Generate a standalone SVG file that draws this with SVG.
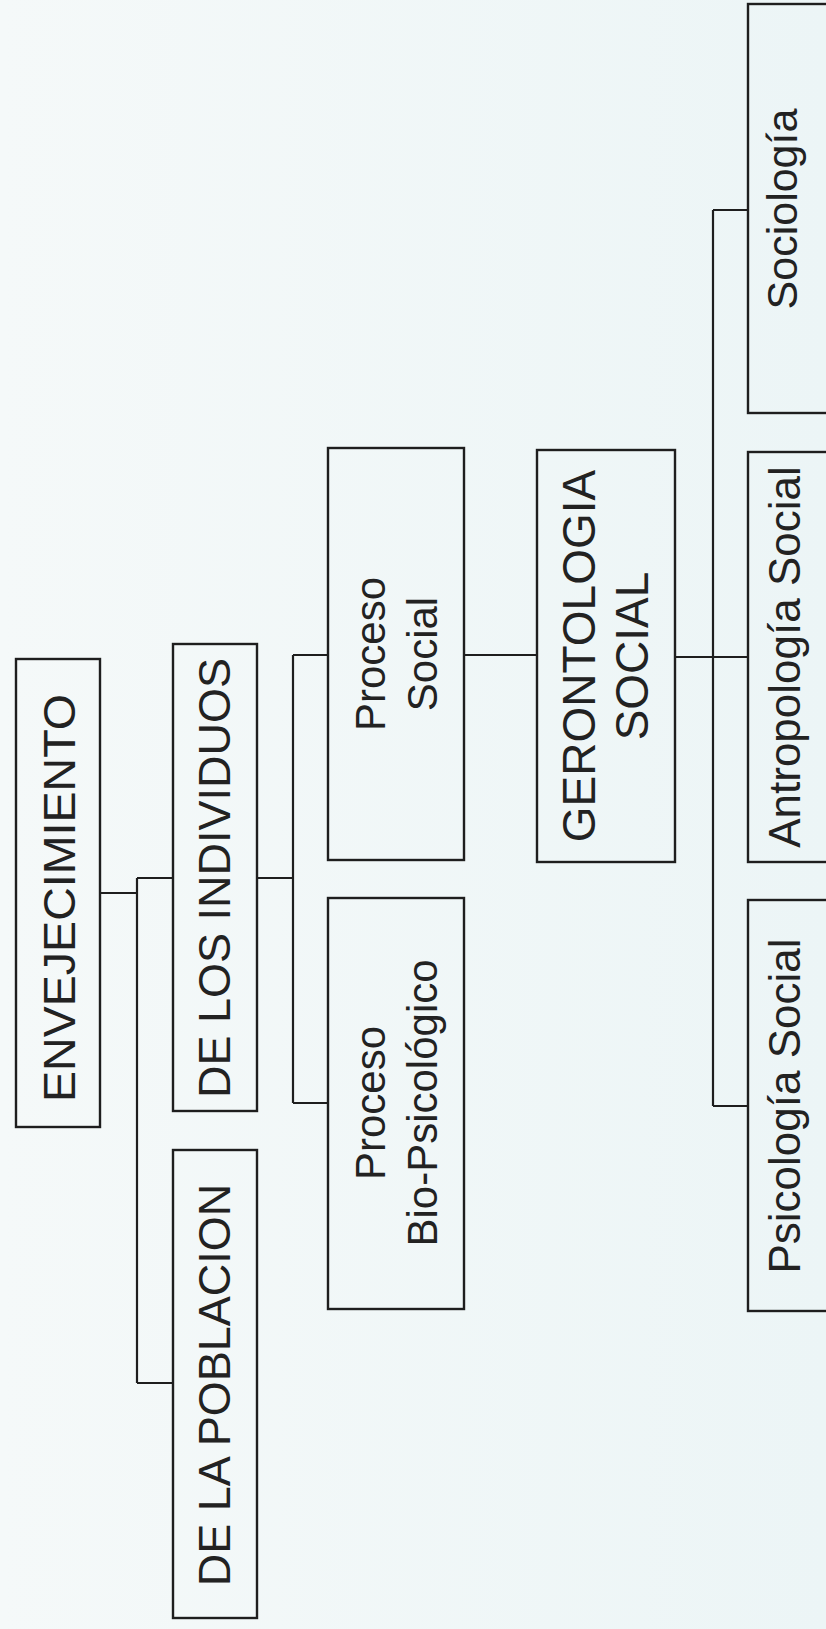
<svg xmlns="http://www.w3.org/2000/svg" width="826" height="1629" viewBox="0 0 826 1629">
<defs>
<linearGradient id="bg" x1="0" y1="0" x2="1" y2="0">
<stop offset="0" stop-color="#f5f9f9"/>
<stop offset="1" stop-color="#ecf5f6"/>
</linearGradient>
</defs>
<style>
.box{fill:none;stroke:#1e1e1e;stroke-width:2.4}
.con{fill:none;stroke:#1e1e1e;stroke-width:2.2}
.t{font-family:"Liberation Sans",Arial,sans-serif;fill:#222;text-anchor:middle}
.big{font-size:45px}
.mid{font-size:42px}
.sm{font-size:44px}
</style>
<rect x="0" y="0" width="826" height="1629" fill="url(#bg)"/>
<g id="connectors">
<path class="con" d="M100,893 H137 M137,878 V1383 M137,878 H173 M137,1383 H173"/>
<path class="con" d="M257,878 H293 M293,655 V1103 M293,655 H328 M293,1103 H328"/>
<path class="con" d="M464,655 H537"/>
<path class="con" d="M675,657 H748 M713,210 V1106 M713,210 H748 M713,1106 H748"/>
</g>
<g id="envejecimiento">
<rect class="box" x="16" y="659" width="84" height="468"/>
<text class="t big" transform="translate(75,898) rotate(-90)" textLength="408" lengthAdjust="spacingAndGlyphs">ENVEJECIMIENTO</text>
</g>
<g id="poblacion">
<rect class="box" x="173" y="1150" width="84" height="468"/>
<text class="t big" transform="translate(230,1385) rotate(-90)">DE LA POBLACION</text>
</g>
<g id="individuos">
<rect class="box" x="173" y="644" width="84" height="467"/>
<text class="t big" transform="translate(230,878) rotate(-90)">DE LOS INDIVIDUOS</text>
</g>
<g id="proceso-social">
<rect class="box" x="328" y="448" width="136" height="412"/>
<text class="t mid" transform="translate(385,654) rotate(-90)">Proceso</text>
<text class="t mid" transform="translate(437,654) rotate(-90)">Social</text>
</g>
<g id="proceso-bio">
<rect class="box" x="328" y="898" width="136" height="411"/>
<text class="t mid" transform="translate(385,1103) rotate(-90)">Proceso</text>
<text class="t mid" transform="translate(437,1103) rotate(-90)">Bio-Psicológico</text>
</g>
<g id="gerontologia">
<rect class="box" x="537" y="450" width="138" height="412"/>
<text class="t" style="font-size:46px" transform="translate(595,656) rotate(-90)">GERONTOLOGIA</text>
<text class="t" style="font-size:46px" transform="translate(648,656) rotate(-90)">SOCIAL</text>
</g>
<g id="sociologia">
<rect class="box" x="748" y="4" width="90" height="409"/>
<text class="t" style="font-size:43px" transform="translate(797,209) rotate(-90)">Sociología</text>
</g>
<g id="antropologia">
<rect class="box" x="748" y="452" width="90" height="410"/>
<text class="t sm" transform="translate(800,657) rotate(-90)">Antropología Social</text>
</g>
<g id="psicologia">
<rect class="box" x="748" y="900" width="90" height="411"/>
<text class="t sm" transform="translate(800,1106) rotate(-90)">Psicología Social</text>
</g>
</svg>
